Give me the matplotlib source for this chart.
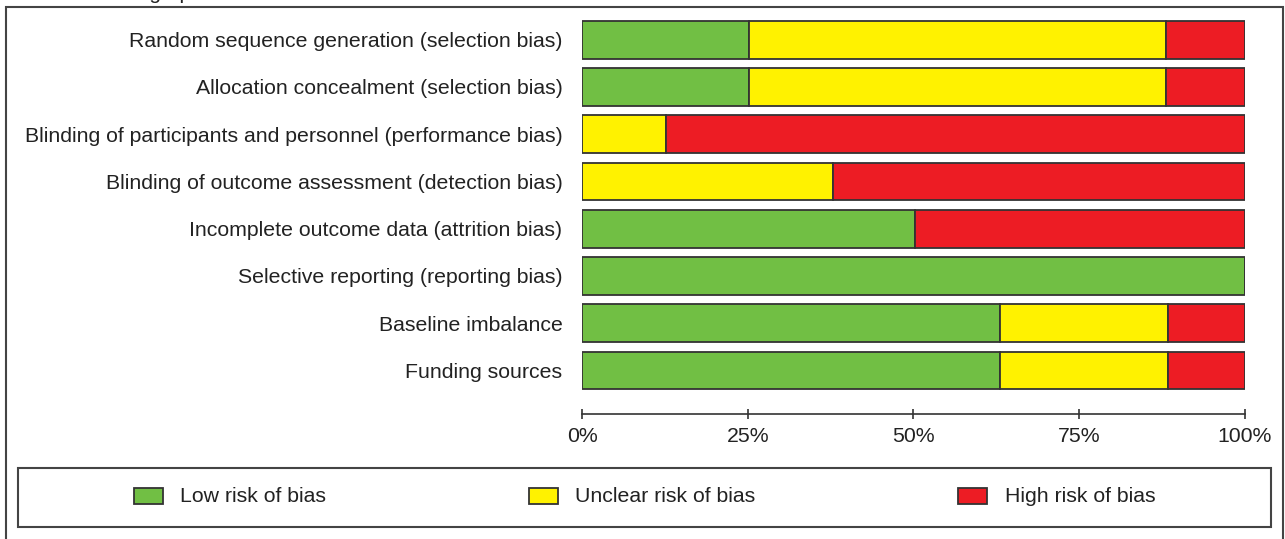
import matplotlib
matplotlib.use("Agg")
import matplotlib.pyplot as plt
from matplotlib.patches import Rectangle

plt.rcParams['font.family'] = ['Liberation Sans', 'DejaVu Sans']

domains = [
    "Random sequence generation (selection bias)",
    "Allocation concealment (selection bias)",
    "Blinding of participants and personnel (performance bias)",
    "Blinding of outcome assessment (detection bias)",
    "Incomplete outcome data (attrition bias)",
    "Selective reporting (reporting bias)",
    "Baseline imbalance",
    "Funding sources",
]
low = [25.2, 25.2, 0, 0, 50.3, 100, 63.0, 63.0]
unclear = [62.9, 62.9, 12.6, 37.8, 0, 0, 25.4, 25.4]
high = [11.9, 11.9, 87.4, 62.2, 49.7, 0, 11.6, 11.6]

categories = ["Low risk of bias", "Unclear risk of bias", "High risk of bias"]
colors = ["#71bf44", "#fff200", "#ed1c24"]
edge = "#333333"
ticks = [0, 25, 50, 75, 100]
tick_labels = ["0%", "25%", "50%", "75%", "100%"]

W, H = 1285, 539
fs = 15.3
fig = plt.figure(figsize=(W / 100, H / 100), dpi=100)

# px helpers
def fx(px):
    return px / W

def fy(py):
    return 1 - py / H

ax = fig.add_axes([fx(582), fy(413.7), fx(1245) - fx(582), fy(15) - fy(413.7)])

y = list(range(len(domains)))
left = [0] * len(domains)
for vals, col in zip([low, unclear, high], colors):
    ax.barh(y, vals, left=left, height=0.8, color=col, edgecolor=edge, linewidth=1.3)
    left = [a + b for a, b in zip(left, vals)]

ax.set_xlim(0, 100)
ax.set_ylim(7.914, -0.523)
ax.set_yticks(y)
ax.set_yticklabels(domains, fontsize=fs, color="#222222")
ax.tick_params(axis='y', length=0, pad=14)
ax.set_xticks(ticks)
ax.set_xticklabels(tick_labels, fontsize=fs, color="#222222")
ax.tick_params(axis='x', direction='inout', length=7, width=1.2, color="#333333", pad=6)
for s in ["top", "right", "left"]:
    ax.spines[s].set_visible(False)
ax.spines["bottom"].set_color("#333333")
ax.spines["bottom"].set_linewidth(1.2)
ax.patch.set_alpha(0)

# outer frame (bottom runs past the picture edge)
fig.add_artist(Rectangle((fx(6), fy(560)), fx(1283) - fx(6), fy(7) - fy(560),
                         transform=fig.transFigure, fill=False, edgecolor="#444444", linewidth=1.5))
# cut-off title above the frame
fig.text(fx(36), fy(-1), "Risk of bias graph", fontsize=15, va="baseline", ha="left", color="#222222")

# legend box
fig.add_artist(Rectangle((fx(18), fy(527.3)), fx(1271) - fx(18), fy(467.7) - fy(527.3),
                         transform=fig.transFigure, fill=False, edgecolor="#444444", linewidth=1.5))
patch_x = [134, 529, 958]
text_x = [180, 575, 1005]
for px, tx, col, lab in zip(patch_x, text_x, colors, categories):
    fig.add_artist(Rectangle((fx(px), fy(504)), fx(px + 29) - fx(px), fy(488) - fy(504),
                             transform=fig.transFigure, facecolor=col, edgecolor=edge, linewidth=1.3))
    fig.text(fx(tx), fy(496), lab, fontsize=fs, va="center", ha="left", color="#222222")

fig.savefig("out.png", dpi=100)
